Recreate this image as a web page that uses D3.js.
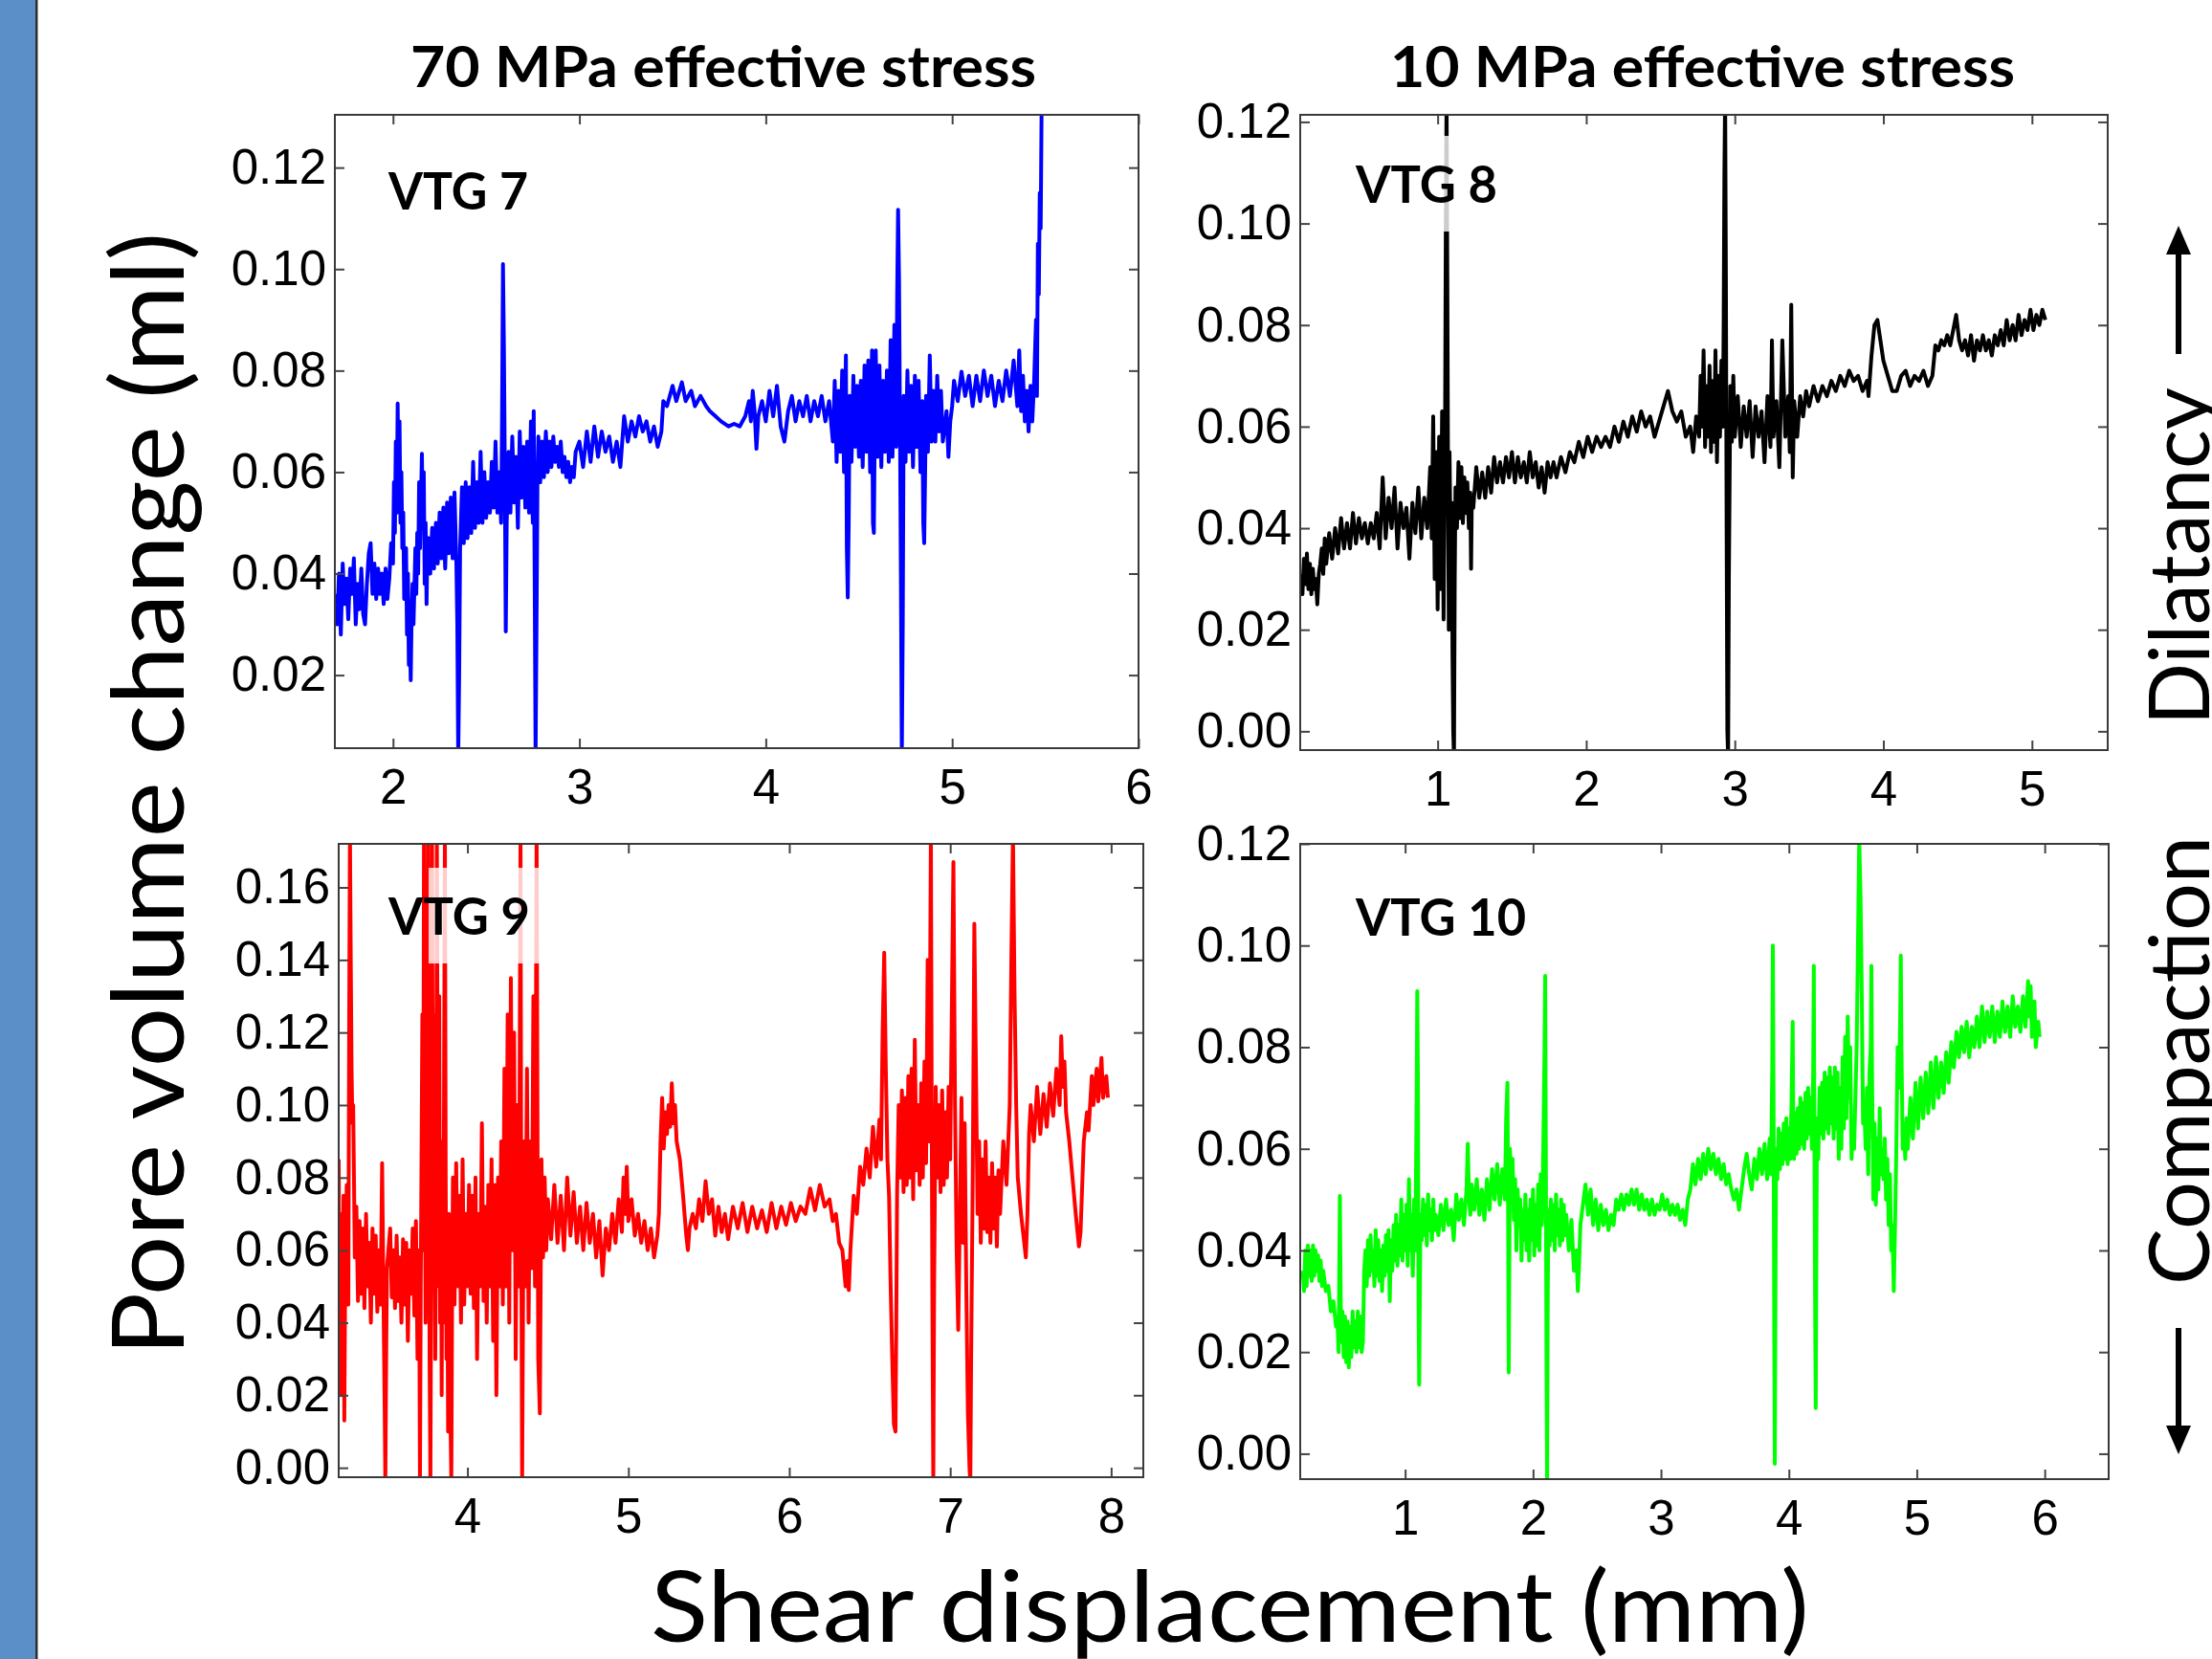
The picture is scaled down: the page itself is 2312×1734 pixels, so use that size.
<!DOCTYPE html>
<html>
<head>
<meta charset="utf-8">
<script src="https://cdn.jsdelivr.net/npm/d3@7"></script>
<style>
body { margin: 0; background: #fff; overflow: hidden; }
</style>
</head>
<body>
<script>
// pore volume change (ml) vs shear displacement (mm)

var vtg7 = [[1.69,.036],[1.70,.030],[1.71,.040],[1.72,.028],[1.73,.042],[1.74,.034],[1.75,.039],[1.76,.031],[1.77,.041],[1.78,.036],[1.79,.043],[1.80,.030],[1.81,.038],[1.82,.033],[1.83,.041],[1.84,.032],[1.85,.030],[1.86,.038],[1.87,.044],[1.88,.046],[1.89,.036],[1.90,.042],[1.91,.035],[1.92,.041],[1.93,.036],[1.94,.040],[1.95,.034],[1.96,.041],[1.97,.035],[1.98,.039],[1.99,.046],[2.00,.042],[2.005,.058],[2.01,.048],[2.015,.066],[2.02,.052],[2.025,.0735],[2.03,.055],[2.035,.070],[2.04,.050],[2.045,.060],[2.05,.045],[2.055,.052],[2.06,.035],[2.07,.045],[2.075,.028],[2.08,.040],[2.085,.022],[2.09,.030],[2.095,.019],[2.10,.032],[2.105,.038],[2.11,.030],[2.12,.045],[2.125,.036],[2.13,.048],[2.135,.040],[2.14,.058],[2.145,.045],[2.155,.0636],[2.16,.050],[2.165,.060],[2.17,.038],[2.175,.050],[2.18,.034],[2.185,.046],[2.19,.047],[2.20,.040],[2.21,.049],[2.22,.041],[2.23,.050],[2.24,.042],[2.25,.052],[2.26,.043],[2.27,.053],[2.28,.041],[2.29,.054],[2.30,.044],[2.31,.055],[2.32,.043],[2.33,.056],[2.34,.042],[2.345,.030],[2.35,.004],[2.355,.020],[2.36,.045],[2.37,.057],[2.38,.046],[2.39,.058],[2.40,.047],[2.41,.057],[2.42,.048],[2.43,.062],[2.44,.049],[2.45,.058],[2.46,.050],[2.47,.064],[2.48,.050],[2.49,.060],[2.50,.051],[2.51,.058],[2.52,.052],[2.53,.062],[2.54,.053],[2.55,.066],[2.56,.052],[2.57,.060],[2.58,.050],[2.585,.070],[2.59,.101],[2.595,.085],[2.60,.060],[2.605,.0286],[2.61,.050],[2.62,.064],[2.63,.052],[2.64,.067],[2.65,.054],[2.66,.063],[2.67,.049],[2.68,.068],[2.69,.055],[2.70,.065],[2.71,.053],[2.72,.066],[2.73,.052],[2.74,.070],[2.75,.050],[2.755,.072],[2.76,.040],[2.765,.004],[2.77,.030],[2.775,.058],[2.78,.067],[2.79,.058],[2.80,.066],[2.81,.059],[2.82,.068],[2.83,.060],[2.84,.066],[2.85,.061],[2.86,.067],[2.87,.062],[2.88,.065],[2.89,.061],[2.90,.066],[2.91,.060],[2.92,.063],[2.93,.059],[2.94,.062],[2.95,.058],[2.96,.061],[2.97,.059],[2.98,.064],[3.00,.066],[3.02,.061],[3.04,.068],[3.06,.062],[3.08,.069],[3.10,.063],[3.12,.068],[3.14,.064],[3.16,.067],[3.18,.062],[3.20,.066],[3.22,.061],[3.24,.071],[3.26,.066],[3.28,.070],[3.30,.067],[3.32,.071],[3.34,.068],[3.36,.070],[3.38,.066],[3.40,.069],[3.42,.065],[3.44,.068],[3.45,.074],[3.47,.073],[3.50,.077],[3.52,.074],[3.55,.0777],[3.57,.074],[3.60,.076],[3.62,.073],[3.65,.075],[3.68,.073],[3.70,.072],[3.73,.071],[3.76,.070],[3.80,.069],[3.83,.0695],[3.86,.069],[3.89,.071],[3.91,.074],[3.92,.070],[3.93,.076],[3.94,.072],[3.95,.0646],[3.96,.071],[3.98,.074],[4.00,.070],[4.02,.076],[4.04,.071],[4.06,.077],[4.08,.069],[4.10,.066],[4.12,.072],[4.14,.075],[4.16,.070],[4.18,.074],[4.20,.071],[4.22,.075],[4.24,.070],[4.26,.074],[4.28,.071],[4.30,.075],[4.32,.070],[4.34,.074],[4.36,.066],[4.37,.078],[4.38,.062],[4.39,.076],[4.40,.064],[4.41,.080],[4.42,.060],[4.43,.083],[4.435,.045],[4.44,.0353],[4.445,.050],[4.45,.075],[4.46,.062],[4.47,.079],[4.48,.065],[4.49,.077],[4.50,.063],[4.51,.078],[4.52,.061],[4.53,.081],[4.54,.064],[4.55,.082],[4.56,.060],[4.57,.084],[4.575,.050],[4.58,.048],[4.585,.070],[4.59,.084],[4.60,.063],[4.61,.081],[4.62,.061],[4.63,.078],[4.64,.064],[4.65,.080],[4.66,.062],[4.67,.086],[4.68,.063],[4.69,.089],[4.70,.065],[4.705,.095],[4.71,.1117],[4.715,.098],[4.72,.070],[4.725,.040],[4.73,.004],[4.735,.030],[4.74,.075],[4.75,.062],[4.76,.080],[4.77,.064],[4.78,.077],[4.79,.061],[4.80,.079],[4.81,.065],[4.82,.078],[4.83,.060],[4.84,.074],[4.845,.050],[4.85,.046],[4.855,.060],[4.86,.075],[4.87,.064],[4.88,.083],[4.89,.066],[4.90,.076],[4.91,.066],[4.92,.079],[4.93,.068],[4.94,.076],[4.95,.066],[4.97,.072],[4.98,.063],[4.99,.070],[5.00,.073],[5.01,.078],[5.03,.074],[5.05,.0798],[5.07,.075],[5.09,.079],[5.11,.073],[5.13,.079],[5.15,.074],[5.17,.080],[5.19,.075],[5.21,.079],[5.23,.073],[5.25,.078],[5.27,.074],[5.29,.080],[5.31,.075],[5.33,.082],[5.35,.073],[5.36,.084],[5.37,.072],[5.38,.079],[5.39,.070],[5.40,.076],[5.41,.068],[5.42,.077],[5.43,.070],[5.44,.078],[5.45,.090],[5.455,.075],[5.46,.105],[5.465,.095],[5.47,.115],[5.475,.108],[5.48,.132]];

var vtg8 = [[0.08,.031],[0.09,.027],[0.10,.034],[0.11,.029],[0.12,.035],[0.13,.028],[0.14,.033],[0.15,.027],[0.16,.032],[0.17,.028],[0.18,.030],[0.19,.025],[0.20,.031],[0.21,.033],[0.22,.036],[0.23,.031],[0.24,.038],[0.25,.033],[0.27,.039],[0.29,.034],[0.31,.040],[0.33,.035],[0.35,.042],[0.37,.036],[0.39,.041],[0.41,.036],[0.43,.043],[0.45,.037],[0.47,.042],[0.49,.038],[0.51,.041],[0.53,.037],[0.55,.041],[0.57,.038],[0.59,.043],[0.61,.036],[0.63,.050],[0.65,.038],[0.67,.046],[0.69,.040],[0.71,.048],[0.73,.036],[0.75,.045],[0.77,.040],[0.79,.044],[0.81,.034],[0.83,.045],[0.85,.039],[0.87,.048],[0.89,.038],[0.91,.046],[0.93,.040],[0.95,.052],[0.96,.038],[0.97,.062],[0.98,.030],[0.99,.055],[1.00,.024],[1.01,.058],[1.02,.028],[1.03,.063],[1.04,.022],[1.05,.060],[1.055,.100],[1.06,.125],[1.065,.090],[1.07,.050],[1.075,.020],[1.08,.055],[1.09,.028],[1.095,.045],[1.10,.015],[1.105,.000],[1.11,-.005],[1.115,.030],[1.12,.048],[1.13,.040],[1.14,.053],[1.15,.042],[1.16,.052],[1.17,.041],[1.18,.050],[1.19,.043],[1.20,.049],[1.21,.040],[1.22,.047],[1.225,.032],[1.23,.046],[1.24,.044],[1.26,.052],[1.28,.046],[1.30,.051],[1.32,.046],[1.34,.052],[1.36,.047],[1.38,.054],[1.40,.049],[1.42,.053],[1.44,.049],[1.46,.054],[1.48,.050],[1.50,.055],[1.52,.049],[1.54,.054],[1.56,.050],[1.58,.053],[1.60,.049],[1.62,.055],[1.64,.050],[1.66,.053],[1.68,.048],[1.70,.052],[1.72,.047],[1.74,.053],[1.76,.050],[1.78,.053],[1.80,.050],[1.83,.054],[1.86,.051],[1.89,.055],[1.92,.053],[1.95,.057],[1.98,.054],[2.01,.058],[2.04,.055],[2.07,.058],[2.10,.056],[2.13,.058],[2.16,.056],[2.19,.060],[2.22,.057],[2.25,.061],[2.28,.058],[2.31,.062],[2.34,.059],[2.37,.063],[2.40,.060],[2.43,.062],[2.46,.058],[2.49,.061],[2.52,.064],[2.55,.067],[2.58,.063],[2.61,.061],[2.64,.063],[2.67,.058],[2.70,.060],[2.72,.055],[2.74,.062],[2.76,.058],[2.77,.070],[2.78,.060],[2.79,.075],[2.80,.056],[2.81,.068],[2.82,.058],[2.83,.072],[2.84,.055],[2.85,.069],[2.86,.057],[2.87,.075],[2.88,.053],[2.89,.070],[2.90,.058],[2.91,.073],[2.92,.060],[2.925,.080],[2.93,.110],[2.935,.125],[2.94,.090],[2.945,.040],[2.95,.000],[2.955,-.005],[2.96,.030],[2.97,.068],[2.98,.057],[2.99,.070],[3.00,.058],[3.02,.066],[3.04,.056],[3.06,.064],[3.08,.058],[3.10,.065],[3.12,.054],[3.14,.064],[3.16,.058],[3.18,.063],[3.20,.053],[3.22,.066],[3.24,.056],[3.25,.077],[3.26,.058],[3.28,.065],[3.30,.052],[3.32,.077],[3.34,.058],[3.36,.066],[3.37,.055],[3.38,.084],[3.39,.050],[3.40,.065],[3.42,.058],[3.44,.066],[3.46,.062],[3.48,.067],[3.50,.064],[3.53,.068],[3.56,.065],[3.59,.068],[3.62,.066],[3.65,.069],[3.68,.067],[3.71,.070],[3.74,.068],[3.77,.071],[3.80,.069],[3.83,.070],[3.86,.067],[3.89,.069],[3.90,.066],[3.92,.074],[3.94,.080],[3.96,.081],[3.98,.077],[4.00,.073],[4.03,.070],[4.06,.067],[4.09,.067],[4.12,.070],[4.15,.071],[4.18,.068],[4.21,.070],[4.24,.069],[4.27,.071],[4.30,.068],[4.33,.070],[4.35,.076],[4.37,.075],[4.39,.077],[4.41,.076],[4.43,.078],[4.45,.076],[4.47,.079],[4.49,.082],[4.51,.077],[4.53,.075],[4.55,.077],[4.57,.074],[4.59,.078],[4.61,.073],[4.63,.077],[4.65,.075],[4.67,.078],[4.69,.075],[4.71,.077],[4.73,.074],[4.75,.078],[4.77,.076],[4.79,.079],[4.81,.076],[4.83,.081],[4.85,.077],[4.87,.080],[4.89,.077],[4.91,.082],[4.93,.078],[4.95,.081],[4.97,.079],[4.99,.083],[5.01,.079],[5.03,.082],[5.05,.080],[5.07,.083],[5.09,.081]];

var vtg9 = [[3.20,.085],[3.205,.040],[3.21,.070],[3.215,.020],[3.22,.060],[3.225,.030],[3.23,.075],[3.235,.013],[3.24,.050],[3.25,.078],[3.26,.045],[3.265,.120],[3.27,.175],[3.275,.140],[3.28,.110],[3.285,.095],[3.29,.100],[3.295,.080],[3.30,.058],[3.31,.072],[3.32,.046],[3.33,.068],[3.34,.048],[3.35,.066],[3.36,.044],[3.37,.070],[3.38,.050],[3.39,.062],[3.40,.040],[3.41,.066],[3.42,.048],[3.43,.064],[3.44,.043],[3.45,.060],[3.46,.045],[3.47,.084],[3.48,.040],[3.485,.020],[3.49,-.004],[3.495,.030],[3.50,.055],[3.52,.066],[3.53,.047],[3.54,.060],[3.55,.044],[3.56,.064],[3.57,.046],[3.58,.058],[3.59,.040],[3.60,.063],[3.61,.045],[3.62,.062],[3.63,.035],[3.64,.060],[3.65,.048],[3.66,.066],[3.67,.042],[3.68,.068],[3.69,.030],[3.70,.060],[3.705,-.004],[3.71,.050],[3.72,.125],[3.725,.060],[3.73,.175],[3.735,.090],[3.74,.040],[3.745,.130],[3.75,.050],[3.755,.175],[3.76,.100],[3.765,.030],[3.77,-.004],[3.775,.060],[3.78,.175],[3.785,.080],[3.79,.125],[3.80,.030],[3.805,.070],[3.81,.175],[3.815,.100],[3.82,.050],[3.825,.130],[3.83,.040],[3.835,.090],[3.84,.020],[3.845,.085],[3.85,.040],[3.86,.175],[3.865,.080],[3.87,.030],[3.875,.060],[3.88,.010],[3.885,.070],[3.89,.030],[3.90,-.004],[3.905,.050],[3.91,.080],[3.92,.045],[3.93,.084],[3.94,.050],[3.95,.075],[3.96,.040],[3.97,.085],[3.98,.045],[3.99,.070],[4.00,.050],[4.01,.078],[4.02,.048],[4.03,.075],[4.04,.044],[4.05,.080],[4.06,.030],[4.07,.070],[4.08,.050],[4.09,.095],[4.10,.046],[4.11,.072],[4.12,.040],[4.13,.078],[4.14,.050],[4.15,.085],[4.16,.035],[4.17,.078],[4.18,.020],[4.19,.080],[4.20,.050],[4.21,.090],[4.22,.045],[4.23,.110],[4.24,.050],[4.25,.125],[4.26,.040],[4.27,.135],[4.28,.060],[4.29,.120],[4.30,.030],[4.31,.100],[4.32,.050],[4.33,.175],[4.335,.060],[4.34,-.004],[4.345,.040],[4.35,.090],[4.36,.050],[4.37,.110],[4.38,.040],[4.39,.090],[4.40,.055],[4.41,.130],[4.42,.050],[4.43,.175],[4.435,.100],[4.44,.030],[4.45,.015],[4.455,.050],[4.46,.085],[4.47,.058],[4.48,.080],[4.49,.060],[4.50,.074],[4.52,.063],[4.54,.078],[4.56,.062],[4.58,.075],[4.60,.060],[4.62,.080],[4.64,.064],[4.66,.076],[4.68,.062],[4.70,.072],[4.72,.060],[4.74,.073],[4.76,.062],[4.78,.070],[4.80,.058],[4.82,.068],[4.84,.053],[4.86,.066],[4.88,.060],[4.90,.070],[4.92,.062],[4.94,.074],[4.96,.065],[4.97,.080],[4.98,.070],[4.99,.083],[5.00,.068],[5.02,.074],[5.04,.064],[5.06,.070],[5.08,.062],[5.10,.068],[5.12,.060],[5.14,.066],[5.16,.058],[5.18,.064],[5.19,.070],[5.20,.090],[5.21,.102],[5.22,.088],[5.23,.098],[5.24,.092],[5.25,.100],[5.26,.094],[5.27,.106],[5.28,.095],[5.29,.100],[5.30,.090],[5.32,.085],[5.34,.075],[5.36,.064],[5.37,.060],[5.38,.066],[5.40,.070],[5.42,.066],[5.44,.074],[5.46,.068],[5.48,.079],[5.50,.070],[5.52,.074],[5.54,.064],[5.56,.072],[5.58,.065],[5.60,.070],[5.62,.063],[5.65,.072],[5.68,.066],[5.71,.073],[5.74,.065],[5.77,.072],[5.80,.066],[5.83,.071],[5.86,.065],[5.89,.073],[5.92,.066],[5.95,.072],[5.98,.067],[6.01,.073],[6.04,.068],[6.07,.072],[6.10,.070],[6.13,.077],[6.16,.071],[6.19,.078],[6.22,.072],[6.25,.074],[6.27,.068],[6.29,.070],[6.31,.062],[6.33,.060],[6.35,.050],[6.36,.057],[6.37,.049],[6.38,.060],[6.40,.075],[6.42,.070],[6.44,.083],[6.46,.078],[6.48,.088],[6.50,.080],[6.52,.094],[6.54,.083],[6.56,.096],[6.57,.085],[6.58,.120],[6.59,.142],[6.60,.110],[6.61,.085],[6.62,.075],[6.63,.050],[6.64,.030],[6.65,.012],[6.66,.010],[6.665,.040],[6.67,.076],[6.68,.100],[6.69,.080],[6.70,.104],[6.71,.076],[6.72,.102],[6.73,.078],[6.74,.108],[6.75,.080],[6.76,.110],[6.77,.074],[6.78,.118],[6.79,.082],[6.80,.100],[6.81,.078],[6.82,.106],[6.83,.080],[6.84,.112],[6.85,.084],[6.86,.140],[6.87,.090],[6.88,.175],[6.885,.100],[6.89,.040],[6.895,-.004],[6.90,.050],[6.91,.105],[6.92,.080],[6.93,.100],[6.94,.076],[6.95,.104],[6.96,.078],[6.97,.098],[6.98,.080],[6.99,.105],[7.00,.085],[7.02,.167],[7.03,.100],[7.04,.060],[7.05,.038],[7.06,.070],[7.07,.102],[7.08,.062],[7.09,.095],[7.10,.050],[7.11,.015],[7.12,.000],[7.125,-.004],[7.13,.030],[7.14,.080],[7.15,.150],[7.16,.110],[7.17,.070],[7.18,.090],[7.19,.062],[7.20,.085],[7.21,.066],[7.22,.090],[7.23,.065],[7.24,.080],[7.25,.062],[7.26,.084],[7.27,.066],[7.28,.080],[7.29,.061],[7.30,.082],[7.31,.070],[7.33,.090],[7.35,.078],[7.37,.100],[7.38,.140],[7.39,.175],[7.40,.130],[7.41,.100],[7.42,.080],[7.44,.070],[7.46,.062],[7.47,.058],[7.48,.070],[7.49,.092],[7.50,.100],[7.52,.090],[7.54,.105],[7.56,.092],[7.58,.103],[7.60,.094],[7.62,.106],[7.64,.097],[7.66,.110],[7.68,.100],[7.69,.119],[7.70,.105],[7.71,.112],[7.72,.098],[7.74,.090],[7.76,.080],[7.78,.070],[7.80,.061],[7.81,.065],[7.83,.090],[7.85,.098],[7.86,.093],[7.88,.108],[7.89,.100],[7.91,.110],[7.92,.101],[7.94,.113],[7.95,.102],[7.97,.108],[7.98,.102]];

var vtg10 = [[0.20,.036],[0.21,.032],[0.22,.040],[0.23,.033],[0.24,.041],[0.25,.035],[0.26,.040],[0.27,.034],[0.28,.041],[0.29,.035],[0.30,.040],[0.31,.036],[0.32,.039],[0.33,.034],[0.34,.038],[0.35,.033],[0.36,.036],[0.38,.032],[0.40,.033],[0.42,.028],[0.44,.030],[0.46,.025],[0.47,.027],[0.48,.020],[0.485,.035],[0.49,.0507],[0.495,.035],[0.50,.022],[0.51,.028],[0.52,.019],[0.53,.027],[0.54,.018],[0.55,.026],[0.56,.017],[0.57,.025],[0.58,.019],[0.59,.028],[0.60,.021],[0.61,.026],[0.62,.020],[0.63,.028],[0.64,.021],[0.65,.027],[0.66,.020],[0.67,.022],[0.68,.036],[0.69,.040],[0.70,.033],[0.71,.042],[0.72,.035],[0.73,.043],[0.74,.036],[0.75,.040],[0.76,.033],[0.77,.044],[0.78,.035],[0.79,.042],[0.80,.034],[0.81,.040],[0.82,.032],[0.83,.041],[0.84,.035],[0.85,.043],[0.86,.036],[0.87,.044],[0.88,.030],[0.89,.042],[0.90,.036],[0.91,.045],[0.92,.038],[0.93,.047],[0.94,.037],[0.95,.045],[0.96,.039],[0.97,.050],[0.98,.038],[0.99,.047],[1.00,.040],[1.01,.049],[1.02,.037],[1.03,.054],[1.04,.040],[1.05,.047],[1.06,.035],[1.07,.050],[1.08,.040],[1.09,.070],[1.095,.091],[1.10,.075],[1.105,.030],[1.11,.0136],[1.115,.030],[1.12,.047],[1.13,.042],[1.14,.050],[1.15,.043],[1.16,.049],[1.17,.041],[1.18,.051],[1.19,.044],[1.20,.048],[1.21,.042],[1.22,.050],[1.23,.044],[1.24,.047],[1.26,.043],[1.28,.049],[1.30,.044],[1.32,.050],[1.34,.045],[1.36,.048],[1.38,.042],[1.40,.051],[1.42,.046],[1.44,.050],[1.46,.045],[1.48,.052],[1.49,.061],[1.50,.050],[1.51,.047],[1.52,.053],[1.54,.048],[1.56,.054],[1.58,.047],[1.60,.052],[1.62,.046],[1.64,.054],[1.66,.048],[1.68,.056],[1.70,.050],[1.72,.057],[1.74,.049],[1.76,.056],[1.78,.050],[1.79,.066],[1.80,.073],[1.805,.050],[1.81,.016],[1.815,.040],[1.82,.060],[1.83,.050],[1.84,.058],[1.85,.046],[1.86,.054],[1.87,.040],[1.88,.052],[1.89,.045],[1.90,.050],[1.91,.038],[1.92,.048],[1.93,.042],[1.94,.051],[1.95,.040],[1.96,.048],[1.97,.038],[1.98,.050],[1.99,.042],[2.00,.052],[2.01,.039],[2.02,.049],[2.03,.041],[2.04,.053],[2.05,.040],[2.06,.055],[2.07,.045],[2.08,.060],[2.09,.080],[2.095,.094],[2.10,.060],[2.105,.020],[2.11,-.006],[2.115,.030],[2.12,.048],[2.13,.041],[2.14,.050],[2.15,.042],[2.16,.049],[2.17,.040],[2.18,.051],[2.19,.043],[2.20,.048],[2.21,.041],[2.22,.050],[2.23,.042],[2.24,.049],[2.25,.043],[2.26,.047],[2.28,.040],[2.30,.046],[2.32,.036],[2.34,.040],[2.35,.032],[2.36,.037],[2.37,.045],[2.39,.049],[2.41,.053],[2.43,.047],[2.45,.052],[2.47,.045],[2.49,.050],[2.51,.044],[2.53,.049],[2.55,.045],[2.57,.048],[2.59,.044],[2.61,.047],[2.63,.045],[2.65,.050],[2.67,.048],[2.69,.051],[2.71,.048],[2.73,.051],[2.75,.049],[2.77,.052],[2.79,.049],[2.81,.052],[2.83,.048],[2.85,.051],[2.87,.048],[2.89,.050],[2.91,.047],[2.93,.050],[2.95,.047],[2.97,.049],[2.99,.048],[3.01,.051],[3.03,.048],[3.05,.050],[3.07,.047],[3.09,.049],[3.11,.047],[3.13,.049],[3.15,.046],[3.17,.048],[3.19,.045],[3.21,.050],[3.23,.052],[3.25,.057],[3.27,.053],[3.29,.058],[3.31,.054],[3.33,.059],[3.35,.055],[3.37,.060],[3.39,.056],[3.41,.059],[3.43,.055],[3.45,.058],[3.47,.054],[3.49,.057],[3.51,.053],[3.53,.055],[3.55,.052],[3.57,.050],[3.59,.052],[3.61,.048],[3.63,.052],[3.65,.056],[3.67,.059],[3.69,.055],[3.71,.052],[3.73,.058],[3.75,.054],[3.77,.060],[3.79,.055],[3.81,.061],[3.83,.054],[3.85,.062],[3.86,.055],[3.87,.075],[3.875,.100],[3.88,.070],[3.885,.030],[3.89,-.002],[3.895,.030],[3.90,.060],[3.91,.054],[3.92,.064],[3.93,.056],[3.94,.063],[3.95,.057],[3.96,.065],[3.97,.058],[3.98,.066],[3.99,.057],[4.00,.064],[4.01,.058],[4.02,.068],[4.03,.085],[4.035,.062],[4.04,.058],[4.05,.067],[4.06,.059],[4.07,.068],[4.08,.060],[4.09,.070],[4.10,.061],[4.11,.069],[4.12,.060],[4.13,.071],[4.14,.062],[4.15,.072],[4.16,.063],[4.17,.070],[4.18,.060],[4.19,.075],[4.195,.096],[4.20,.060],[4.205,.030],[4.21,.009],[4.215,.040],[4.22,.066],[4.23,.058],[4.24,.072],[4.25,.063],[4.26,.073],[4.27,.062],[4.28,.075],[4.29,.064],[4.30,.074],[4.31,.063],[4.32,.076],[4.33,.065],[4.34,.074],[4.35,.062],[4.36,.076],[4.37,.064],[4.38,.075],[4.39,.058],[4.40,.072],[4.41,.060],[4.42,.078],[4.43,.064],[4.44,.082],[4.45,.066],[4.46,.086],[4.47,.070],[4.48,.080],[4.49,.058],[4.50,.065],[4.51,.060],[4.52,.070],[4.53,.080],[4.54,.100],[4.55,.121],[4.56,.110],[4.57,.090],[4.58,.065],[4.59,.068],[4.60,.060],[4.61,.072],[4.62,.055],[4.63,.075],[4.64,.080],[4.645,.096],[4.65,.075],[4.66,.050],[4.67,.065],[4.68,.049],[4.69,.062],[4.70,.052],[4.71,.068],[4.72,.055],[4.73,.060],[4.74,.054],[4.75,.062],[4.76,.050],[4.77,.058],[4.78,.045],[4.79,.055],[4.80,.040],[4.81,.045],[4.82,.032],[4.83,.045],[4.84,.060],[4.85,.080],[4.86,.072],[4.87,.085],[4.875,.098],[4.88,.080],[4.89,.060],[4.90,.065],[4.91,.058],[4.92,.066],[4.93,.060],[4.95,.070],[4.97,.062],[4.99,.073],[5.01,.064],[5.03,.074],[5.05,.066],[5.07,.075],[5.09,.067],[5.11,.077],[5.13,.068],[5.15,.078],[5.17,.070],[5.19,.077],[5.21,.071],[5.23,.079],[5.25,.073],[5.27,.081],[5.29,.076],[5.31,.083],[5.33,.078],[5.35,.084],[5.37,.079],[5.39,.085],[5.41,.078],[5.43,.084],[5.45,.080],[5.47,.086],[5.49,.080],[5.51,.088],[5.53,.081],[5.55,.087],[5.57,.082],[5.59,.088],[5.61,.081],[5.63,.087],[5.65,.082],[5.67,.089],[5.69,.083],[5.71,.088],[5.73,.082],[5.75,.090],[5.77,.084],[5.79,.088],[5.81,.083],[5.83,.090],[5.85,.084],[5.87,.093],[5.88,.086],[5.89,.092],[5.90,.082],[5.92,.089],[5.93,.080],[5.95,.085],[5.96,.082]];

var names = ["VTG 7", "VTG 8", "VTG 9", "VTG 10"];
var series = [vtg7, vtg8, vtg9, vtg10];
var colors = ["#0000ff", "#000000", "#ff0000", "#00ff00"];
var xDomains = [[1.688, 6.0], [0.075, 5.51], [3.2, 8.2], [0.18, 6.5]];
var yDomains = [[0.0056, 0.1304], [-0.0037, 0.1214], [-0.0026, 0.172], [-0.005, 0.12]];
var xTicks = [[2, 3, 4, 5, 6], [1, 2, 3, 4, 5], [4, 5, 6, 7, 8], [1, 2, 3, 4, 5, 6]];
var yTicks = [
  [0.02, 0.04, 0.06, 0.08, 0.10, 0.12],
  [0.00, 0.02, 0.04, 0.06, 0.08, 0.10, 0.12],
  [0.00, 0.02, 0.04, 0.06, 0.08, 0.10, 0.12, 0.14, 0.16],
  [0.00, 0.02, 0.04, 0.06, 0.08, 0.10, 0.12]
];
var titles = ["70 MPa effective stress", "10 MPa effective stress"];

// layout of the four frames, in pixels
var frames = [
  {left: 350, right: 1190, top: 120, bottom: 782},
  {left: 1359, right: 2203, top: 120, bottom: 784},
  {left: 354, right: 1195, top: 882, bottom: 1544},
  {left: 1359, right: 2204, top: 882, bottom: 1546}
];
var labelPos = [[56, 99, 146], [58, 92, 148], [52, 95, 148], [58, 96, 178]];
var hasMask = [false, true, true, false];

var W = 2312, H = 1734;
var tickFont = "'Liberation Sans', Arial, sans-serif";
var textFont = "Lato, 'Open Sans', sans-serif";

var svg = d3.select("body").append("svg")
    .attr("width", W)
    .attr("height", H);

svg.append("rect").attr("width", W).attr("height", H).attr("fill", "#fff");

//blue strip on the left
svg.append("rect").attr("x", 0).attr("y", 0).attr("width", 37).attr("height", H).attr("fill", "#5b8fc7");
svg.append("rect").attr("x", 37).attr("y", 0).attr("width", 2.5).attr("height", H).attr("fill", "#2e2e2e");

var defs = svg.append("defs");

frames.forEach(function(f, i) {
    var x = d3.scaleLinear().domain(xDomains[i]).range([f.left, f.right]);
    var y = d3.scaleLinear().domain(yDomains[i]).range([f.bottom, f.top]);

    defs.append("clipPath").attr("id", "clip" + i)
      .append("rect")
        .attr("x", f.left).attr("y", f.top)
        .attr("width", f.right - f.left).attr("height", f.bottom - f.top);

    var line = d3.line()
        .x(function(d) { return x(d[0]); })
        .y(function(d) { return y(d[1]); });

    svg.append("path")
        .datum(series[i])
        .attr("clip-path", "url(#clip" + i + ")")
        .attr("d", line)
        .attr("fill", "none")
        .attr("stroke", colors[i])
        .attr("stroke-width", 4)
        .attr("stroke-linejoin", "round");

    var lp = labelPos[i];
    if (hasMask[i]) {
        svg.append("rect")
            .attr("x", f.left + lp[0] + 42).attr("y", f.top + lp[1] - 70)
            .attr("width", 121).attr("height", 100)
            .attr("fill", "#fff").attr("opacity", 0.8);
    }

    // axes with inward ticks on all four sides
    var axes = [
        {ax: d3.axisBottom(x).tickValues(xTicks[i]).tickFormat(d3.format("d")), t: "translate(0," + f.bottom + ")"},
        {ax: d3.axisTop(x).tickValues(xTicks[i]).tickFormat(""), t: "translate(0," + f.top + ")"},
        {ax: d3.axisLeft(y).tickValues(yTicks[i]).tickFormat(d3.format(".2f")), t: "translate(" + f.left + ",0)"},
        {ax: d3.axisRight(y).tickValues(yTicks[i]).tickFormat(""), t: "translate(" + f.right + ",0)"}
    ];
    axes.forEach(function(a, k) {
        var g = svg.append("g")
            .attr("transform", a.t)
            .call(a.ax.tickSize(-10).tickPadding(k == 0 ? 22 : 9));
        g.select(".domain").remove();
        g.selectAll(".tick line").attr("stroke", "#444").attr("stroke-width", 2);
        g.selectAll(".tick text")
            .attr("fill", "#000")
            .style("font-family", tickFont)
            .style("font-size", "51px");
    });

    svg.append("rect")
        .attr("x", f.left).attr("y", f.top)
        .attr("width", f.right - f.left).attr("height", f.bottom - f.top)
        .attr("fill", "none")
        .attr("stroke", "#3a3a3a")
        .attr("stroke-width", 2);

    svg.append("text")
        .attr("x", f.left + lp[0]).attr("y", f.top + lp[1])
        .attr("textLength", lp[2]).attr("lengthAdjust", "spacingAndGlyphs")
        .style("font-family", textFont).style("font-weight", 700).style("font-size", "54px")
        .text(names[i]);
});

// column titles
[[429, 654], [1453, 653]].forEach(function(t, i) {
    svg.append("text")
        .attr("x", t[0]).attr("y", 91)
        .attr("textLength", t[1]).attr("lengthAdjust", "spacingAndGlyphs")
        .style("font-family", textFont).style("font-weight", 700).style("font-size", "59px")
        .text(titles[i]);
});

// shared axis titles
svg.append("text")
    .attr("transform", "translate(192,1417) rotate(-90)")
    .attr("textLength", 1174).attr("lengthAdjust", "spacingAndGlyphs")
    .style("font-family", textFont).style("font-size", "104px")
    .text("Pore volume change (ml)");

svg.append("text")
    .attr("x", 680).attr("y", 1716)
    .attr("textLength", 1211).attr("lengthAdjust", "spacingAndGlyphs")
    .style("font-family", textFont).style("font-size", "103px")
    .text("Shear displacement (mm)");

// dilatancy / compaction on the right
svg.append("text")
    .attr("transform", "translate(2309,758) rotate(-90)")
    .attr("textLength", 353).attr("lengthAdjust", "spacingAndGlyphs")
    .style("font-family", textFont).style("font-size", "87px")
    .text("Dilatancy");
svg.append("text")
    .attr("transform", "translate(2309,1343) rotate(-90)")
    .attr("textLength", 469).attr("lengthAdjust", "spacingAndGlyphs")
    .style("font-family", textFont).style("font-size", "87px")
    .text("Compaction");

var arrows = [[370, 236], [1388, 1520]];
arrows.forEach(function(a) {
    var dir = a[1] < a[0] ? -1 : 1;
    svg.append("line")
        .attr("x1", 2277).attr("x2", 2277)
        .attr("y1", a[0]).attr("y2", a[1] - dir * 26)
        .attr("stroke", "#000").attr("stroke-width", 6);
    svg.append("path")
        .attr("d", d3.line()([[2264, a[1] - dir * 30], [2290, a[1] - dir * 30], [2277, a[1]]]) + "Z")
        .attr("fill", "#000");
});
</script>
</body>
</html>
